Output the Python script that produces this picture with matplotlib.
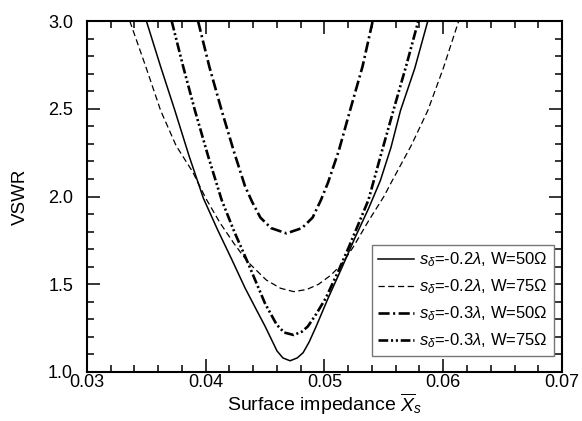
import matplotlib
matplotlib.use("Agg")
import matplotlib.pyplot as plt
from matplotlib.ticker import MultipleLocator

plt.rcParams['font.family'] = ['Liberation Sans', 'DejaVu Sans']
plt.rcParams['mathtext.fontset'] = 'custom'
plt.rcParams['mathtext.rm'] = 'Liberation Sans'
plt.rcParams['mathtext.it'] = 'Liberation Sans:italic'
plt.rcParams['mathtext.bf'] = 'Liberation Sans:bold'
plt.rcParams['lines.scale_dashes'] = False

# s=-0.2 lambda, W=50 Ohm (solid)
x_a = [0.0350, 0.0362, 0.0374, 0.0386, 0.0398, 0.0410, 0.0422, 0.0433, 0.0443,
       0.0450, 0.0455, 0.0460, 0.0465, 0.0471, 0.0477, 0.0482, 0.0487, 0.0493,
       0.0503, 0.0515, 0.0526, 0.0537, 0.0547, 0.0556, 0.0564, 0.0576, 0.0587]
y_a = [3.00, 2.74, 2.49, 2.23, 1.99, 1.81, 1.64, 1.48, 1.35,
       1.26, 1.19, 1.12, 1.08, 1.064, 1.08, 1.11, 1.17, 1.26,
       1.42, 1.60, 1.77, 1.93, 2.09, 2.28, 2.49, 2.73, 3.00]

# s=-0.2 lambda, W=75 Ohm (dashed)
x_b = [0.0336, 0.0350, 0.0362, 0.0375, 0.0389, 0.0400, 0.0412, 0.0424, 0.0435,
       0.0451, 0.0463, 0.0474, 0.0485, 0.0495, 0.0505, 0.0514, 0.0524, 0.0537,
       0.0550, 0.0557, 0.0573, 0.0587, 0.0600, 0.0613]
y_b = [3.00, 2.73, 2.49, 2.29, 2.14, 1.99, 1.85, 1.73, 1.63,
       1.524, 1.477, 1.458, 1.47, 1.50, 1.55, 1.61, 1.71, 1.86,
       2.00, 2.09, 2.29, 2.49, 2.73, 3.00]

# s=-0.3 lambda, W=50 Ohm (dash-dot)
x_c = [0.03935, 0.0403, 0.04134, 0.0424, 0.0433, 0.0439, 0.0446, 0.0455, 0.0468,
       0.0481, 0.0490, 0.0497, 0.0503, 0.0512, 0.05215, 0.0532, 0.05406]
y_c = [3.00, 2.74, 2.49, 2.25, 2.06, 1.97, 1.88, 1.82, 1.79,
       1.82, 1.88, 1.98, 2.08, 2.26, 2.49, 2.74, 3.00]

# s=-0.3 lambda, W=75 Ohm (dash-dot-dot)
x_d = [0.03713, 0.0381, 0.03909, 0.0402, 0.04134, 0.0424, 0.0435, 0.04499, 0.04597,
       0.0466, 0.0474, 0.0481, 0.0486, 0.0493, 0.0501, 0.0512, 0.0521, 0.0537,
       0.0548, 0.0558, 0.0569, 0.0579]
y_d = [3.00, 2.74, 2.49, 2.23, 1.98, 1.80, 1.63, 1.391, 1.27,
       1.225, 1.211, 1.23, 1.26, 1.33, 1.42, 1.58, 1.72, 1.98,
       2.25, 2.49, 2.75, 3.00]

labels = [r'$s_{\delta}$=-0.2$\lambda$, W=50Ω',
          r'$s_{\delta}$=-0.2$\lambda$, W=75Ω',
          r'$s_{\delta}$=-0.3$\lambda$, W=50Ω',
          r'$s_{\delta}$=-0.3$\lambda$, W=75Ω']

fig = plt.figure(figsize=(5.82, 4.21), dpi=100)
ax = fig.add_axes([87/582, 1-372/421, 475/582, 351/421])

ax.plot(x_a, y_a, color='black', lw=1.1, ls='-', label=labels[0])
ax.plot(x_b, y_b, color='black', lw=0.9, ls=(0, (4.5, 2.5)), label=labels[1])
ax.plot(x_c, y_c, color='black', lw=1.9, ls=(0, (8, 2.5, 1.5, 2.5)), label=labels[2])
ax.plot(x_d, y_d, color='black', lw=1.9, ls=(0, (7, 2, 1.5, 2, 1.5, 2)), label=labels[3])

ax.set_xlim(0.03, 0.07)
ax.set_ylim(1.0, 3.0)
ax.xaxis.set_minor_locator(MultipleLocator(0.002))
ax.yaxis.set_minor_locator(MultipleLocator(0.1))
ax.set_xticks([0.03, 0.04, 0.05, 0.06, 0.07])
ax.set_xticklabels(['0.03', '0.04', '0.05', '0.06', '0.07'])
ax.set_yticks([1.0, 1.5, 2.0, 2.5, 3.0])
ax.set_yticklabels(['1.0', '1.5', '2.0', '2.5', '3.0'])

ax.tick_params(which='both', direction='in', top=True, right=True, width=1.1, labelsize=13)
ax.tick_params(which='major', length=9.5)
ax.tick_params(which='minor', length=5)
ax.tick_params(axis='x', pad=1.5)
ax.tick_params(axis='y', pad=10)
for s in ax.spines.values():
    s.set_linewidth(1.5)

ax.set_xlabel(r'Surface impedance $\overline{X}_s$', fontsize=14, labelpad=0)
ax.set_ylabel('VSWR', fontsize=13.5, labelpad=14)

leg = ax.legend(loc='lower right', bbox_to_anchor=(0.983, 0.0456), borderaxespad=0,
                fontsize=12, handlelength=2.2, handletextpad=0.3, labelspacing=0.5,
                frameon=True, fancybox=False, edgecolor='#777777', framealpha=1,
                borderpad=0.35)
leg.get_frame().set_linewidth(1.0)

fig.savefig('out.png', dpi=100)
